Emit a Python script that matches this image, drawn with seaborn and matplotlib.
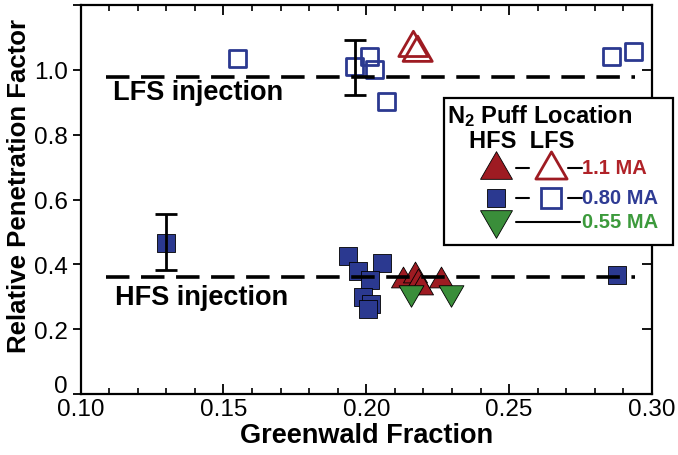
import numpy as np
import pandas as pd
import matplotlib
matplotlib.use("Agg")
import matplotlib.pyplot as plt
import seaborn as sns
from matplotlib.patches import Rectangle
from matplotlib.path import Path
from matplotlib.markers import MarkerStyle
from matplotlib.ticker import MultipleLocator, FixedLocator, FuncFormatter
from matplotlib.transforms import ScaledTranslation

# ---------------- data ----------------
# 1.1 MA, HFS injection (filled up-triangles)
hfs_11_x = [0.213, 0.217, 0.218, 0.219, 0.226]
hfs_11_y = [0.360, 0.375, 0.355, 0.340, 0.360]
# 1.1 MA, LFS injection (open up-triangles)
lfs_11_x = [0.2165, 0.218]
lfs_11_y = [1.080, 1.065]
# 0.80 MA, HFS injection (filled squares)
hfs_08_x = [0.130, 0.1937, 0.1972, 0.2054, 0.2013, 0.1987, 0.2015, 0.2007, 0.2878]
hfs_08_y = [0.467, 0.425, 0.378, 0.405, 0.352, 0.298, 0.277, 0.262, 0.367]
# 0.80 MA, LFS injection (open squares)
lfs_08_x = [0.1549, 0.196, 0.2013, 0.203, 0.2071, 0.2859, 0.2934]
lfs_08_y = [1.036, 1.010, 1.041, 1.000, 0.903, 1.041, 1.056]
# 0.55 MA, HFS injection (filled down-triangles)
hfs_055_x = [0.2155, 0.2295]
hfs_055_y = [0.302, 0.302]
# error bars
err_x = [0.130, 0.196]
err_y = [0.467, 1.010]
err_lo = [0.382, 0.921]
err_hi = [0.554, 1.092]
# reference levels
lfs_level = 0.979
hfs_level = 0.362
level_x = [0.109, 0.294]

x_ticks = [0.10, 0.15, 0.20, 0.25, 0.30]
y_ticks = [0, 0.2, 0.4, 0.6, 0.8, 1.0]

RED = "#9E1B22"
BLUE = "#2B3990"
GREEN = "#3A8E3A"

# equilateral triangle markers (bbox-centred)
UP = MarkerStyle(Path([(-1, -0.866), (1, -0.866), (0, 0.866), (-1, -0.866)], closed=True))
DOWN = MarkerStyle(Path([(-1, 0.866), (1, 0.866), (0, -0.866), (-1, 0.866)], closed=True))

# ---------------- style ----------------
sns.set_theme(style="white")
plt.rcParams["font.family"] = ["Liberation Sans", "DejaVu Sans"]
plt.rcParams["mathtext.fontset"] = "custom"
plt.rcParams["mathtext.rm"] = "Liberation Sans:bold"
plt.rcParams["mathtext.default"] = "rm"
plt.rcParams["text.color"] = "black"
plt.rcParams["axes.labelcolor"] = "black"
plt.rcParams["xtick.color"] = "black"
plt.rcParams["ytick.color"] = "black"

W, H = 678, 456
fig = plt.figure(figsize=(W / 100, H / 100), dpi=100)
L, R, T, B = 80.5, 652, 6, 395
ax = fig.add_axes([L / W, 1 - B / H, (R - L) / W, (B - T) / H])

def add(xs, ys, marker, color, size, filled=True, z=3):
    df = pd.DataFrame({"x": xs, "y": ys})
    sns.scatterplot(data=df, x="x", y="y", marker=marker, s=size, color=color,
                    edgecolor="black" if filled else color,
                    linewidth=0.6 if filled else 2.0, ax=ax, zorder=z, legend=False)
    coll = ax.collections[-1]
    if not filled:
        coll.set_facecolor("none")
        coll.set_edgecolor(color)
        coll.set_linewidth(2.0)

add(lfs_08_x, lfs_08_y, "s", BLUE, 150, filled=False)
add(lfs_11_x, lfs_11_y, UP, RED, 440, filled=False)
add(hfs_08_x, hfs_08_y, "s", BLUE, 170)
add(hfs_11_x, hfs_11_y, UP, RED, 300)
add(hfs_055_x, hfs_055_y, DOWN, GREEN, 320)

# error bars
for xe, ye, lo, hi in zip(err_x, err_y, err_lo, err_hi):
    ax.errorbar([xe], [ye], yerr=[[ye - lo], [hi - ye]], fmt="none",
                ecolor="black", elinewidth=2, capsize=8, capthick=2, zorder=4)

# dashed reference lines
for lvl in (lfs_level, hfs_level):
    ax.plot(level_x, [lvl, lvl], color="black", lw=2.6, ls=(0, (6.5, 3.2)), zorder=5)

ax.text(0.1114, 0.932, "LFS injection", fontsize=19.5, fontweight="bold",
        va="center", ha="left", zorder=6)
ax.text(0.1120, 0.300, "HFS injection", fontsize=19.5, fontweight="bold",
        va="center", ha="left", zorder=6)

# axes
ax.set_xlim(0.10, 0.30)
ax.set_ylim(0, 1.2)
ax.xaxis.set_major_locator(FixedLocator(x_ticks))
ax.xaxis.set_minor_locator(MultipleLocator(0.01))
ax.yaxis.set_major_locator(FixedLocator(y_ticks + [1.2]))
ax.xaxis.set_major_formatter(FuncFormatter(lambda v, p: f"{v:.2f}"))
ax.yaxis.set_major_formatter(FuncFormatter(
    lambda v, p: "0" if abs(v) < 1e-9 else ("" if v > 1.1 else f"{v:.1f}")))
for s in ax.spines.values():
    s.set_linewidth(1.6)
    s.set_color("black")
ax.tick_params(axis="x", which="major", direction="in", length=7, width=1.3,
               top=True, bottom=True, labelsize=17.5, pad=3)
ax.tick_params(axis="x", which="minor", direction="in", length=4, width=1.2,
               top=True, bottom=True)
ax.tick_params(axis="y", which="major", direction="out", length=6, width=1.3,
               left=True, right=False, labelsize=17.5, pad=3)
# right-side inward ticks via twin axis
axr = ax.twinx()
axr.set_ylim(ax.get_ylim())
axr.yaxis.set_major_locator(FixedLocator(y_ticks))
axr.tick_params(axis="y", direction="in", length=7, width=1.3, labelright=False)
for s in axr.spines.values():
    s.set_visible(False)
axr.grid(False)

ax.set_xlabel("Greenwald Fraction", fontsize=19.5, fontweight="bold", labelpad=1)
ax.set_ylabel("Relative Penetration Factor", fontsize=18.5, fontweight="bold")
ax.yaxis.set_label_coords(-0.086, 0.537)

# lift the "0" y tick label slightly, as in the reference
fig.canvas.draw()
for tk in ax.yaxis.get_major_ticks():
    if abs(tk.get_loc()) < 1e-9:
        lab = tk.label1
        lab.set_transform(lab.get_transform() + ScaledTranslation(0, 10 / 100, fig.dpi_scale_trans))

# ---------------- legend (drawn manually, in figure pixels) ----------------
def fx(px):
    return px / W

def fy(py):
    return 1 - py / H

box = Rectangle((fx(443.5), fy(246)), fx(673) - fx(443.5), fy(98.5) - fy(246),
                transform=fig.transFigure, facecolor="white", edgecolor="black",
                lw=1.6, zorder=10)
fig.add_artist(box)

fig.text(fx(447), fy(116), r"N$_2$ Puff Location", fontsize=17, fontweight="bold",
         va="center", ha="left", zorder=11)
fig.text(fx(469), fy(141), "HFS  LFS", fontsize=17, fontweight="bold",
         va="center", ha="left", zorder=11)

def fline(x0, x1, y):
    fig.add_artist(plt.Line2D([fx(x0), fx(x1)], [fy(y), fy(y)], color="black",
                              lw=1.5, transform=fig.transFigure, zorder=11))

def fmark(x, y, marker, color, ms, filled=True):
    fig.add_artist(plt.Line2D([fx(x)], [fy(y)], marker=marker, ms=ms,
                              markerfacecolor=color if filled else "none",
                              markeredgecolor="black" if filled else color,
                              markeredgewidth=0.6 if filled else 2.0,
                              ls="none", transform=fig.transFigure, zorder=12))

rows = [
    (168.5, UP, RED, "1.1 MA", "#B02228", True, 166, 23, 22.5),
    (198.5, "s", BLUE, "0.80 MA", "#2E3B94", True, 198.5, 13.5, 14),
    (222.5, DOWN, GREEN, "0.55 MA", "#3C9A3C", False, 224.5, 23, 0),
]
for y, m, c, lab, tc, has_lfs, ym, msf, mso in rows:
    fmark(496, ym, m, c, msf, True)
    if has_lfs:
        fline(516, 529, y)
        fmark(551, ym, m, c, mso, filled=False)
        fline(568, 582, y)
    else:
        fline(516, 580, y)
    fig.text(fx(582), fy(y), lab, fontsize=14.5, fontweight="bold", color=tc,
             va="center", ha="left", zorder=12)

fig.savefig("out.png", dpi=100)
